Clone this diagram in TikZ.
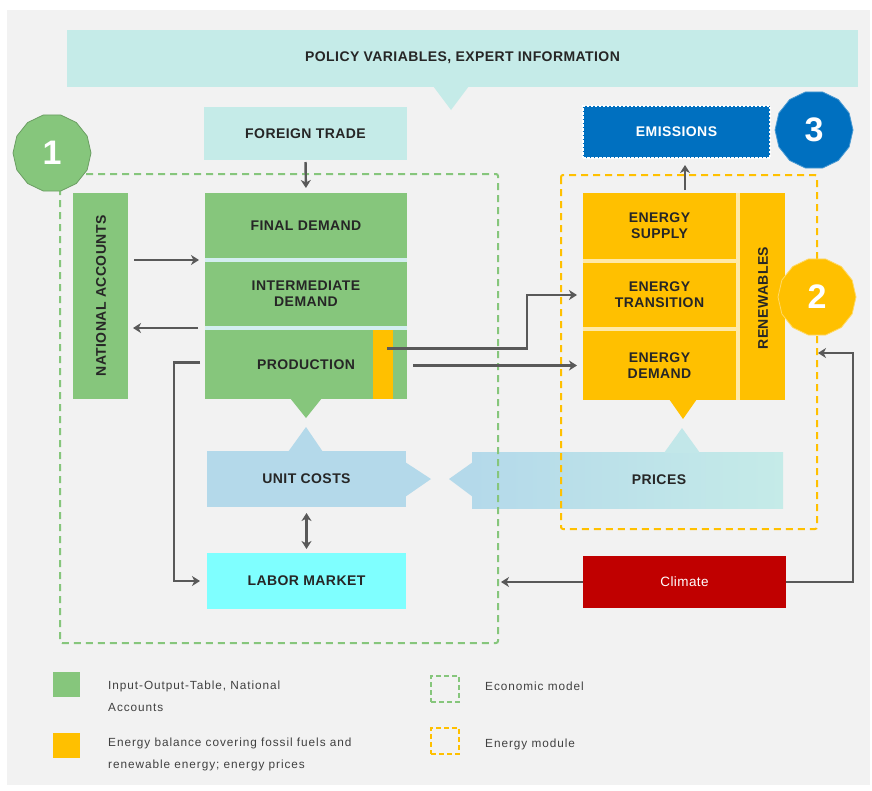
\documentclass[tikz,border=0pt]{standalone}
\usepackage{fontspec}
\setmainfont{Liberation Sans}
\newfontfamily\lblfamily{Liberation Sans}[LetterSpace=3]
\newfontfamily\legfamily{Liberation Sans}[LetterSpace=8]
\usetikzlibrary{shapes.geometric,arrows.meta}
\definecolor{bggray}{HTML}{F2F2F2}
\definecolor{ggreen}{HTML}{86C67C}
\definecolor{gyellow}{HTML}{FFC000}
\definecolor{gblue}{HTML}{0070C0}
\definecolor{gteal}{HTML}{C5EBE8}
\definecolor{gsky}{HTML}{B4D9EA}
\definecolor{gmid}{HTML}{C0E4EA}
\definecolor{gcyan}{HTML}{7FFFFF}
\definecolor{gred}{HTML}{C00000}
\definecolor{garrow}{HTML}{595959}
\definecolor{gtext}{HTML}{262626}
\definecolor{legtext}{HTML}{404040}
\definecolor{gapblue}{HTML}{D3EEF0}
\definecolor{gapyellow}{HTML}{FFE9A8}
\newcommand\lblfont{\lblfamily\bfseries\fontsize{14}{16}\selectfont}
\newcommand\legfont{\legfamily\fontsize{11.8}{22}\selectfont}
\begin{document}
\begin{tikzpicture}[x=1pt,y=-1pt,
  box/.style={rectangle, inner sep=0pt, outer sep=0pt, text=gtext, font=\lblfont, align=center},
  conn/.style={draw=garrow, line width=2.4pt, -{Stealth[length=8pt,width=10pt,inset=2.5pt]}},
  badge/.style={regular polygon, regular polygon sides=14, minimum size=78pt, inner sep=0pt,
    text=white, font=\bfseries\fontsize{34}{34}\selectfont},
  gdash/.style={draw=ggreen, line width=2pt, dash pattern=on 7pt off 5pt},
  ydash/.style={draw=gyellow, line width=2pt, dash pattern=on 7pt off 5pt},
  legtxt/.style={anchor=west, inner sep=0pt, text=legtext, font=\legfont, align=left}
]
\useasboundingbox (0,0) rectangle (872,790);
\fill[white] (0,0) rectangle (872,790);
\fill[bggray] (7,10) rectangle (870,785);

% banner
\node[box, fill=gteal, minimum width=791pt, minimum height=57pt] (ban) at (462.5,58) {POLICY VARIABLES, EXPERT INFORMATION};
\fill[gteal] (433,86) -- (451,110) -- (469,86) -- cycle;

\node[box, fill=gteal, minimum width=203pt, minimum height=53pt] (ft) at (305.5,133.5) {FOREIGN TRADE};

% unit costs and prices
\node[box, fill=gsky, minimum width=199pt, minimum height=56pt] (uc) at (306.5,479) {UNIT COSTS};
\fill[gsky] (288,452) -- (306,427) -- (323,452) -- cycle;
\fill[gsky] (405,462) -- (431,479) -- (405,497) -- cycle;
\node[box, left color=gsky, right color=gteal, minimum width=311pt, minimum height=56pt] (pr) at (627.5,480) {};
\node[box] (prt) at (659,480) {PRICES};
\fill[gsky] (473,462) -- (449,479) -- (473,497) -- cycle;
\fill[gmid!60!gteal] (664,453) -- (682,428) -- (700,453) -- cycle;

% dashed model frames
\draw[gdash, rounded corners=2pt] (60,174) rectangle (498,643);
\draw[ydash, rounded corners=2pt] (561,175) rectangle (817,529);

% emissions
\node[box, fill=gblue, draw=white, line width=1.4pt, dash pattern=on 2.5pt off 1.5pt, text=white,
  minimum width=187pt, minimum height=52pt] (em) at (676.5,132) {EMISSIONS};

% economic block
\node[box, fill=ggreen, minimum width=55pt, minimum height=206pt] (na) at (100.5,296) {};
\node[box, rotate=90] (nat) at (101,296) {NATIONAL ACCOUNTS};
\fill[gapblue] (205,193) rectangle (407,399);
\node[box, fill=ggreen, minimum width=202pt, minimum height=64.5pt] (fd) at (306,225.25) {FINAL DEMAND};
\node[box, fill=ggreen, minimum width=202pt, minimum height=63.5pt] (id) at (306,293.75) {INTERMEDIATE\\DEMAND};
\node[box, fill=ggreen, minimum width=202pt, minimum height=69pt] (prod) at (306,364.5) {PRODUCTION};
\node[box, fill=gyellow, minimum width=20pt, minimum height=69pt] (strip) at (383,364.5) {};
\fill[ggreen] (290,398) -- (306,418) -- (322,398) -- cycle;

% energy block
\fill[gapyellow] (583,193) rectangle (785,400);
\node[box, fill=gyellow, minimum width=153pt, minimum height=66pt] (es) at (659.5,226) {ENERGY\\SUPPLY};
\node[box, fill=gyellow, minimum width=153pt, minimum height=64pt] (et) at (659.5,295) {ENERGY\\TRANSITION};
\node[box, fill=gyellow, minimum width=153pt, minimum height=69pt] (ed) at (659.5,365.5) {ENERGY\\DEMAND};
\node[box, fill=gyellow, minimum width=45pt, minimum height=207pt] (ren) at (762.5,296.5) {};
\node[box, rotate=90] (rent) at (763,298) {RENEWABLES};
\fill[gyellow] (669,399) -- (683,419) -- (697,399) -- cycle;

% bottom boxes
\node[box, fill=gcyan, minimum width=199pt, minimum height=56pt] (lm) at (306.5,581) {LABOR MARKET};
\node[box, fill=gred, text=white, font=\lblfamily\fontsize{13.5}{15}\selectfont,
  minimum width=203pt, minimum height=52pt] (cl) at (684.5,582) {Climate};

% badges
\node[badge, fill=ggreen, draw=ggreen!80!black, line width=0.8pt] (c1) at (52,153) {1};
\node[badge, fill=gblue, draw=gblue!70!white, line width=0.8pt] (c3) at (814,130) {3};
\node[badge, fill=gyellow, draw=gyellow!60!white, line width=0.8pt] (c2) at (817,297) {2};

% connectors
\coordinate (s1) at (205,260);
\coordinate (s2) at (205,328);
\coordinate (emx) at (685,0);
\coordinate (rin) at (818,353);
\draw[conn, shorten <=2pt, shorten >=5pt] (ft.south) -- (fd.north);
\draw[conn, shorten <=6pt, shorten >=6pt] (na.east |- s1) -- (s1);
\draw[conn, shorten <=7pt, shorten >=5pt] (s2) -- (na.east |- s2);
\draw[conn] ([xshift=-5pt,yshift=2pt]prod.west) -- ++(-26,0) |- ([xshift=-7pt]lm.west);
\draw[conn] ([xshift=4pt,yshift=16pt]strip.center) -- ++(140,0) |- ([xshift=-6pt]et.west);
\draw[conn, shorten <=6pt, shorten >=6pt] (prod.east |- ed.west) -- (ed.west);
\draw[conn, shorten <=3pt, shorten >=7pt] (es.north -| emx) -- (em.south -| emx);
\draw[conn, {Stealth[length=8pt,width=10pt,inset=2.5pt]}-{Stealth[length=8pt,width=10pt,inset=2.5pt]}, shorten <=6pt, shorten >=4pt] (uc.south) -- (lm.north);
\draw[conn] (cl.west) -- ++(-82,0);
\draw[conn] (cl.east) -- ++(67,0) |- (rin);

% legend
\node[box, fill=ggreen, minimum width=27pt, minimum height=25pt] (lsq1) at (66.5,684.5) {};
\node[box, fill=gyellow, minimum width=27pt, minimum height=25pt] (lsq2) at (66.5,745) {};
\node[legtxt] (lg1) at (108,696) {Input-Output-Table, National\\Accounts};
\node[legtxt] (lg2) at (108,754) {Energy balance covering fossil fuels and\\renewable energy; energy prices};
\node[box, gdash, line width=1.8pt, dash pattern=on 5pt off 3pt, minimum width=28pt, minimum height=26pt] (lsq3) at (445,689) {};
\node[box, ydash, line width=1.8pt, dash pattern=on 5pt off 3pt, minimum width=28pt, minimum height=26pt] (lsq4) at (445,741) {};
\node[legtxt] (lg3) at (485,686) {Economic model};
\node[legtxt] (lg4) at (485,744) {Energy module};
\end{tikzpicture}
\end{document}
